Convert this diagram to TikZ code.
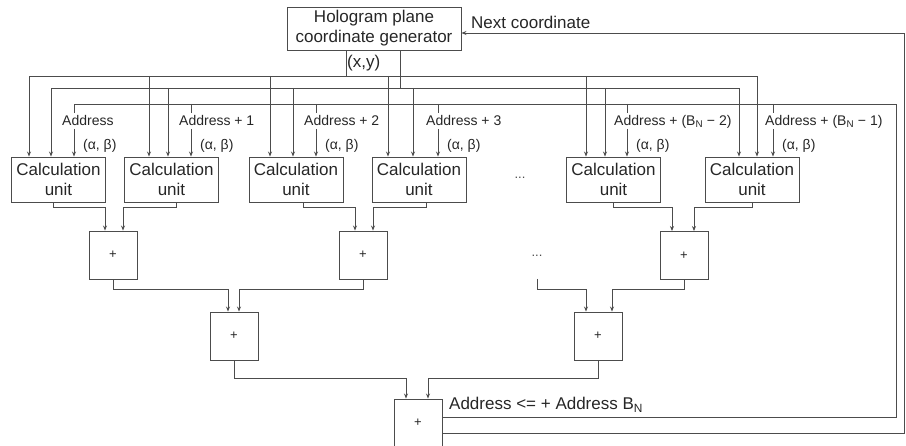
\documentclass[tikz,border=0pt]{standalone}
\usepackage{fontspec}
\setmainfont{Liberation Sans}
\usetikzlibrary{arrows.meta, positioning, calc}

\begin{document}
\begin{tikzpicture}[
        x=1pt,
        y=-1pt,
        wire/.style={
            line width=0.9pt,
            black!70
        },
        feed/.style={
            wire,
            -{Stealth[length=5pt, width=4pt]}
        },
        bothfeed/.style={
            wire,
            {Stealth[length=5pt, width=4pt]}-{Stealth[length=5pt, width=4pt]}
        },
        block/.style={
            draw=black!70,
            line width=0.9pt,
            align=center,
            inner sep=1pt,
            text=black!85,
            font=\fontsize{17}{20}\selectfont
        },
        calcunit/.style={
            block,
            minimum width=94pt,
            minimum height=45pt
        },
        adder/.style={
            block,
            minimum width=48pt,
            minimum height=48pt,
            font=\fontsize{13}{15}\selectfont
        },
        taplabel/.style={
            font=\fontsize{14}{16}\selectfont,
            text=black!85,
            inner xsep=1pt,
            inner ysep=2pt,
            text height=10.5pt,
            text depth=1pt,
            anchor=west
        },
        textlabel/.style={
            font=\fontsize{17}{20}\selectfont,
            text=black!85,
            inner sep=1pt
        },
        dotslabel/.style={
            font=\fontsize{13}{15}\selectfont,
            text=black!70
        }
    ]

        \useasboundingbox (0,0) rectangle (906,446);

        % ---------------------------------------------------------------------
        % Coordinate generator and calculation units
        % ---------------------------------------------------------------------

        \node[block, minimum width=174pt, minimum height=43pt] (generator) at (374,28.5) {
            Hologram plane\\coordinate generator
        };

        \node[calcunit] (calc1) at (58.5,179.5) {Calculation\\unit};
        \node[calcunit] (calc2) at (171.5,179.5) {Calculation\\unit};
        \node[calcunit] (calc3) at (296,179.5) {Calculation\\unit};
        \node[calcunit] (calc4) at (419,179.5) {Calculation\\unit};
        \node[calcunit] (calc5) at (613.5,179.5) {Calculation\\unit};
        \node[calcunit] (calc6) at (752,179.5) {Calculation\\unit};

        \node[dotslabel] (dots1) at (520,178) {...};

        % ---------------------------------------------------------------------
        % Adder tree
        % ---------------------------------------------------------------------

        \node[adder] (add1) at (113,255) {+};
        \node[adder] (add2) at (363,255) {+};
        \node[adder] (add3) at (684,255.5) {+};
        \node[dotslabel] (dots2) at (537,256) {...};

        \node[adder] (add4) at (234,336) {+};
        \node[adder] (add5) at (598,336) {+};

        \node[adder] (final) at (418,423) {+};

        % ---------------------------------------------------------------------
        % Labels
        % ---------------------------------------------------------------------

        \node[textlabel, anchor=west] (xylabel) at (346,63) {(x,y)};
        \node[textlabel, anchor=base west] (nextlabel) at (470,29) {Next coordinate};
        \node[textlabel, anchor=base west] (updatelabel) at (448,410) {
            Address <= + Address B\textsubscript{N}
        };

        \node[taplabel] (addr1) at (61,121) {Address};
        \node[taplabel] (addr2) at (178,121) {Address + 1};
        \node[taplabel] (addr3) at (303,121) {Address + 2};
        \node[taplabel] (addr4) at (425,121) {Address + 3};
        \node[taplabel] (addr5) at (613,121) {Address + (B\textsubscript{N} − 2)};
        \node[taplabel] (addr6) at (764,121) {Address + (B\textsubscript{N} − 1)};

        \node[taplabel] (ab1) at (82,145) {(α, β)};
        \node[taplabel] (ab2) at (199,145) {(α, β)};
        \node[taplabel] (ab3) at (324,145) {(α, β)};
        \node[taplabel] (ab4) at (446,145) {(α, β)};
        \node[taplabel] (ab5) at (635,145) {(α, β)};
        \node[taplabel] (ab6) at (781,145) {(α, β)};

        % ---------------------------------------------------------------------
        % Hologram coordinate buses
        % ---------------------------------------------------------------------

        \coordinate (bus1) at (346,76);
        \coordinate (bus2) at (400,88);

        \draw[wire] (generator.south -| bus1) -- (bus1);
        \draw[wire] (generator.south -| bus2) -- (bus2);

        \draw[bothfeed] (calc1.north -| 29,0) |- (757,76) -- (calc6.north -| 757,0);
        \draw[feed] (bus1 -| 149,0) -- (calc2.north -| 149,0);
        \draw[feed] (bus1 -| 270,0) -- (calc3.north -| 270,0);
        \draw[feed] (bus1 -| 388,0) -- (calc4.north -| 388,0);
        \draw[feed] (bus1 -| 586,0) -- (calc5.north -| 586,0);

        \draw[bothfeed] (calc1.north -| 51,0) |- (739,88) -- (calc6.north -| 739,0);
        \draw[feed] (bus2 -| 168,0) -- (calc2.north -| 168,0);
        \draw[feed] (bus2 -| 293,0) -- (calc3.north -| 293,0);
        \draw[feed] (bus2 -| 413,0) -- (calc4.north -| 413,0);
        \draw[feed] (bus2 -| 605,0) -- (calc5.north -| 605,0);

        % ---------------------------------------------------------------------
        % Address bus fed back from the last adder
        % ---------------------------------------------------------------------

        \coordinate (addrbus) at (896,104);

        \draw[wire] (final.east |- 0,417) -| (addrbus) -| (addr1.north -| 74,0);
        \draw[wire] (addrbus -| 191,0) -- (addr2.north -| 191,0);
        \draw[wire] (addrbus -| 316,0) -- (addr3.north -| 316,0);
        \draw[wire] (addrbus -| 438,0) -- (addr4.north -| 438,0);
        \draw[wire] (addrbus -| 627,0) -- (addr5.north -| 627,0);
        \draw[wire] (addrbus -| 773,0) -- (addr6.north -| 773,0);

        \draw[feed] (addr1.south -| 74,0) -- (calc1.north -| 74,0);
        \draw[feed] (addr2.south -| 191,0) -- (calc2.north -| 191,0);
        \draw[feed] (addr3.south -| 316,0) -- (calc3.north -| 316,0);
        \draw[feed] (addr4.south -| 438,0) -- (calc4.north -| 438,0);
        \draw[feed] (addr5.south -| 627,0) -- (calc5.north -| 627,0);
        \draw[feed] (addr6.south -| 773,0) -- (calc6.north -| 773,0);

        % next coordinate request
        \coordinate (nextturn) at (904.5,33);
        \draw[feed] (final.east |- 0,433) -| (nextturn) -- (generator.east |- nextturn);

        % ---------------------------------------------------------------------
        % Sums
        % ---------------------------------------------------------------------

        \draw[feed] ($(calc1.south)+(-5,0)$) -- ++(0,5) -| ($(add1.north)+(-8,0)$);
        \draw[feed] ($(calc2.south)+(5,0)$) -- ++(0,5) -| ($(add1.north)+(10,0)$);
        \draw[feed] ($(calc3.south)+(7,0)$) -- ++(0,5) -| ($(add2.north)+(-8,0)$);
        \draw[feed] ($(calc4.south)+(7,0)$) -- ++(0,5) -| ($(add2.north)+(10,0)$);
        \draw[feed] (calc5.south) -- ++(0,5) -| ($(add3.north)+(-12,0)$);
        \draw[feed] (calc6.south) -- ++(0,5) -| ($(add3.north)+(10,0)$);

        \coordinate (dotsend) at (537,279);

        \draw[feed] (add1.south) -- ++(0,10) -| ($(add4.north)+(-6,0)$);
        \draw[feed] (add2.south) -- ++(0,10) -| ($(add4.north)+(5,0)$);
        \draw[feed] (dotsend) -- ++(0,10) -| ($(add5.north)+(-12,0)$);
        \draw[feed] (add3.south) -- ++(0,10) -| ($(add5.north)+(14,0)$);

        \draw[feed] (add4.south) -- ++(0,18) -| ($(final.north)+(-12,0)$);
        \draw[feed] (add5.south) -- ++(0,18) -| ($(final.north)+(10,0)$);

    \end{tikzpicture}
\end{document}
